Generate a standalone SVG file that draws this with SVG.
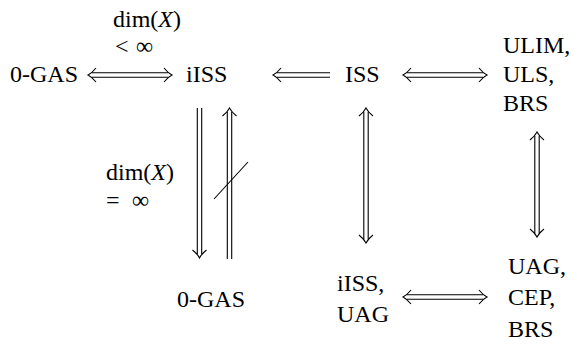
<svg xmlns="http://www.w3.org/2000/svg" width="577" height="345" viewBox="0 0 577 345">
  <style>
    text { font-family: "Liberation Serif", "Times New Roman", serif; font-size: 24px; fill: #000; }
    .it { font-style: italic; }
    .arr { fill: none; stroke: #000; stroke-width: 1.1; }
    .slash { stroke: #000; stroke-width: 1.1; }
  </style>
  <rect width="577" height="345" fill="#fff"/>

  <!-- connectors: double-stroke implication arrows -->
  <g id="connectors" class="arr">
    <!-- 0-GAS <=> iISS -->
    <path d="M92 72.8 H168 M92 77.2 H168"/>
    <path d="M96 68 Q92 73 88 75 Q92 77 96 82"/>
    <path d="M164 68 Q168 73 172 75 Q168 77 164 82"/>
    <!-- iISS <== ISS -->
    <path d="M277 72.8 H330 M277 77.2 H330"/>
    <path d="M281 68 Q277 73 273 75 Q277 77 281 82"/>
    <!-- ISS <=> ULIM, ULS, BRS -->
    <path d="M407 72.8 H483 M407 77.2 H483"/>
    <path d="M411 68 Q407 73 403 75 Q407 77 411 82"/>
    <path d="M479 68 Q483 73 487 75 Q483 77 479 82"/>
    <!-- iISS => 0-GAS (downwards) -->
    <path d="M197.3 108 V254 M201.7 108 V254"/>
    <path d="M192.5 250 Q197.5 254 199.5 258 Q201.5 254 206.5 250"/>
    <!-- 0-GAS does not imply iISS (upwards, struck through) -->
    <path d="M227.3 112 V259 M231.7 112 V259"/>
    <path d="M222.5 116 Q227.5 112 229.5 108 Q231.5 112 236.5 116"/>
    <line class="slash" x1="214" y1="199" x2="248" y2="162"/>
    <!-- ISS <=> iISS, UAG -->
    <path d="M363.8 112 V239 M368.2 112 V239"/>
    <path d="M359 116 Q364 112 366 108 Q368 112 373 116"/>
    <path d="M359 235 Q364 239 366 243 Q368 239 373 235"/>
    <!-- ULIM, ULS, BRS <=> UAG, CEP, BRS -->
    <path d="M534.8 136 V233 M539.2 136 V233"/>
    <path d="M530 140 Q535 136 537 132 Q539 136 544 140"/>
    <path d="M530 229 Q535 233 537 237 Q539 233 544 229"/>
    <!-- iISS, UAG <=> UAG, CEP, BRS -->
    <path d="M407 294.8 H483 M407 299.2 H483"/>
    <path d="M411 290 Q407 295 403 297 Q407 299 411 304"/>
    <path d="M479 290 Q483 295 487 297 Q483 299 479 304"/>
  </g>

  <!-- arrow labels -->
  <g id="label-finite">
    <text x="113" y="27">dim(<tspan class="it">X</tspan>)</text>
    <text x="115" y="54">&lt;<tspan x="136">∞</tspan></text>
  </g>
  <g id="label-infinite">
    <text x="106" y="180">dim(<tspan class="it">X</tspan>)</text>
    <text x="106" y="208">=<tspan x="132">∞</tspan></text>
  </g>

  <!-- nodes -->
  <g id="node-0gas-top"><text x="10" y="82">0-GAS</text></g>
  <g id="node-iiss"><text x="186" y="82">iISS</text></g>
  <g id="node-iss"><text x="345" y="82">ISS</text></g>
  <g id="node-ulim">
    <text x="503" y="53">ULIM,</text>
    <text x="503" y="82">ULS,</text>
    <text x="503" y="111">BRS</text>
  </g>
  <g id="node-0gas-bottom"><text x="177" y="307">0-GAS</text></g>
  <g id="node-iiss-uag">
    <text x="337" y="291">iISS,</text>
    <text x="337" y="322">UAG</text>
  </g>
  <g id="node-uag-cep">
    <text x="508" y="274">UAG,</text>
    <text x="508" y="305">CEP,</text>
    <text x="508" y="337">BRS</text>
  </g>
</svg>
